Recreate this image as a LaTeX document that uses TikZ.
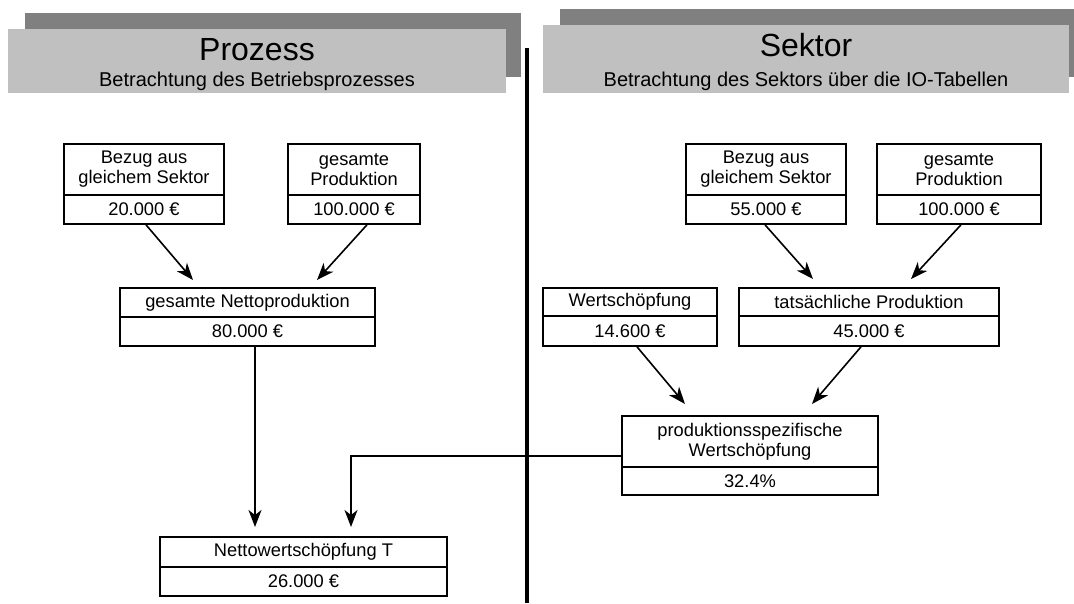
\documentclass[tikz,border=0pt]{standalone}
\usepackage{fontspec}
\setmainfont{Liberation Sans}
\usetikzlibrary{arrows.meta,calc}
\definecolor{hdrdark}{gray}{0.5}
\definecolor{hdrlight}{gray}{0.753}

\begin{document}
\begin{tikzpicture}[x=1pt,y=-1pt,
  cell/.style={draw, line width=1.6pt, inner sep=0pt, align=center,
               font=\fontsize{18.3}{20}\selectfont},
  flow/.style={line width=1.6pt, -{Stealth[length=17pt,width=13pt,inset=5pt]}},
  ttl/.style={anchor=base, font=\fontsize{32}{36}\selectfont},
  subttl/.style={anchor=base, font=\fontsize{20}{24}\selectfont},
]
\fill[white] (0,0) rectangle (1074,603);
\useasboundingbox (0,0) rectangle (1074,603);

% header panels
\fill[hdrdark]  (25,13) rectangle (521,77);
\fill[hdrlight] (8,29) rectangle (506,93);
\fill[hdrdark]  (560,9) rectangle (1074,77);
\fill[hdrlight] (543,25) rectangle (1069,93);

\node[ttl]    (ttlL) at (257,60) {Prozess};
\node[subttl] (subL) at (257,86) {Betrachtung des Betriebsprozesses};
\node[ttl]    (ttlR) at (806,56) {Sektor};
\node[subttl] (subR) at (806,86) {Betrachtung des Sektors über die IO-Tabellen};

% separator between the two views
\draw[line width=3.2pt] (527,48) -- (527,603);

% ---- process view ----
\node[cell, minimum width=160pt, minimum height=51pt] (a)  at (144,169.5) {Bezug aus\\gleichem Sektor};
\node[cell, minimum width=160pt, minimum height=29pt] (av) at (144,209.5) {20.000 €};
\node[cell, minimum width=132pt, minimum height=51pt] (b)  at (354,169.5) {gesamte\\Produktion};
\node[cell, minimum width=132pt, minimum height=29pt] (bv) at (354,209.5) {100.000 €};
\node[cell, minimum width=255pt, minimum height=29pt] (c)  at (247.5,302.5) {gesamte Nettoproduktion};
\node[cell, minimum width=255pt, minimum height=29pt] (cv) at (247.5,331.5) {80.000 €};
\node[cell, minimum width=287pt, minimum height=30pt] (d)  at (303.5,552) {Nettowertschöpfung T};
\node[cell, minimum width=287pt, minimum height=29pt] (dv) at (303.5,581.5) {26.000 €};

% ---- sector view ----
\node[cell, minimum width=160pt, minimum height=51pt] (a2)  at (766,169.5) {Bezug aus\\gleichem Sektor};
\node[cell, minimum width=160pt, minimum height=29pt] (a2v) at (766,209.5) {55.000 €};
\node[cell, minimum width=164pt, minimum height=51pt] (b2)  at (959,169.5) {gesamte\\Produktion};
\node[cell, minimum width=164pt, minimum height=29pt] (b2v) at (959,209.5) {100.000 €};
\node[cell, minimum width=174pt, minimum height=28pt] (w)   at (630,302) {Wertschöpfung};
\node[cell, minimum width=174pt, minimum height=30pt] (wv)  at (630,331) {14.600 €};
\node[cell, minimum width=260pt, minimum height=28pt] (p)   at (869,302) {tatsächliche Produktion};
\node[cell, minimum width=260pt, minimum height=30pt] (pv)  at (869,331) {45.000 €};
\node[cell, minimum width=256pt, minimum height=51pt] (e)   at (750,441.5) {produktionsspezifische\\Wertschöpfung};
\node[cell, minimum width=256pt, minimum height=28pt] (ev)  at (750,481) {32.4\%};

% arrow tips (they stop short of the target boxes)
\coordinate (tc1) at (193,280);
\coordinate (tc2) at (317,280);
\coordinate (td1) at (255,527);
\coordinate (td2) at (351,527);
\coordinate (tp1) at (813,279);
\coordinate (tp2) at (911,279);
\coordinate (te1) at (685,404);
\coordinate (te2) at (812,404);

\draw[flow] ([xshift=2pt]av.south)   -- (tc1);
\draw[flow] ([xshift=13pt]bv.south)  -- (tc2);
\draw[flow] ([xshift=7.5pt]cv.south) -- (td1);
\draw[flow] ([yshift=-14.5pt]e.west) -| (td2);
\draw[flow] ([xshift=-1pt]a2v.south) -- (tp1);
\draw[flow] ([xshift=2pt]b2v.south)  -- (tp2);
\draw[flow] ([xshift=7pt]wv.south)   -- (te1);
\draw[flow] ([xshift=-8pt]pv.south)  -- (te2);
\end{tikzpicture}
\end{document}
